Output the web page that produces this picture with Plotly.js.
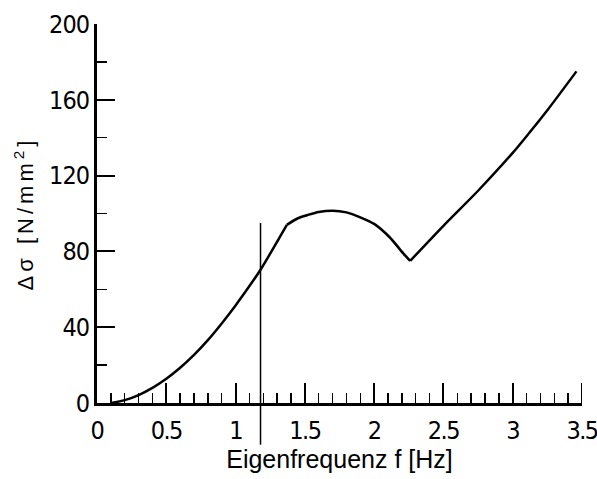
<!DOCTYPE html>
<html>
<head>
<meta charset="utf-8">
<script src="https://cdn.plot.ly/plotly-3.0.1.min.js"></script>
<style>
html,body{margin:0;padding:0;background:#fff;}
#chart{width:597px;height:479px;}
.g-ytitle text{letter-spacing:4px;}
.xtick text{font-stretch:condensed;letter-spacing:-1.5px;}
.ytick text{font-stretch:condensed;letter-spacing:-1px;}
</style>
</head>
<body>
<div id="chart"></div>
<script>
// Eigenfrequenz f [Hz]
var freq = [0.10, 0.20, 0.30, 0.40, 0.50, 0.60, 0.70, 0.80, 0.90, 1.00, 1.10, 1.18, 1.37,
            1.45, 1.52, 1.60, 1.70, 1.80, 1.90, 2.00, 2.11, 2.21, 2.26,
            2.50, 2.75, 3.00, 3.12, 3.25, 3.46];
// Δσ [N/mm²]
var stress = [0, 1.5, 4.2, 8.0, 12.8, 18.6, 25.4, 33.2, 42.0, 51.5, 61.7, 70.3, 94,
              97.5, 99.2, 100.8, 101.5, 100.6, 98, 94.5, 87.6, 79, 75,
              93.5, 112, 132, 142.6, 154.5, 175];
// indices of the sharp corners (knee and minimum)
var corners = [12, 22];
// vertical marker line
var markerF = 1.18;
var markerTop = 95;
var markerBottom = -22;

var xTickVals = [0, 0.5, 1, 1.5, 2, 2.5, 3, 3.5];
var xTickText = ['0', '0.5', '1', '1.5', '2', '2.5', '3', '3.5'];
var yTickVals = [0, 40, 80, 120, 160, 200];
var yTickText = ['0', '40', '80', '120', '160', '200'];

var yMin = 0, yMax = 200;

var bounds = [0].concat(corners).concat([freq.length - 1]);
var traces = [];
for (var i = 0; i < bounds.length - 1; i++) {
  traces.push({
    x: freq.slice(bounds[i], bounds[i + 1] + 1),
    y: stress.slice(bounds[i], bounds[i + 1] + 1),
    type: 'scatter', mode: 'lines',
    line: {color: '#000', width: 2.5, shape: 'spline', smoothing: 0.8},
    hoverinfo: 'none', showlegend: false
  });
}

var tickFont = {family: '"Liberation Sans Narrow", "DejaVu Sans Condensed", "Liberation Sans", sans-serif', size: 25, color: '#000'};
var titleFont = {family: '"Liberation Sans", Arial, sans-serif', size: 25, color: '#000'};

var layout = {
  width: 597, height: 479,
  margin: {l: 97, r: 15, t: 24, b: 76},
  paper_bgcolor: '#fff', plot_bgcolor: '#fff',
  showlegend: false,
  xaxis: {
    range: [0, 3.5], showgrid: false, zeroline: false,
    showline: true, linewidth: 3, linecolor: '#000',
    ticks: 'inside', ticklen: 20, tickwidth: 2, tickcolor: '#000',
    tickmode: 'array', tickvals: xTickVals, ticktext: xTickText,
    tickfont: tickFont, ticklabelstandoff: 3, ticklabeloverflow: 'allow',
    minor: {ticks: 'inside', ticklen: 10, tickwidth: 1.5, tickcolor: '#000', dtick: 0.1, tick0: 0, showgrid: false},
    title: {text: 'Eigenfrequenz f [Hz]', font: titleFont, standoff: 2}
  },
  yaxis: {
    range: [yMin, yMax], showgrid: false, zeroline: false,
    showline: true, linewidth: 3, linecolor: '#000',
    ticks: 'inside', ticklen: 18, tickwidth: 2, tickcolor: '#000',
    tickmode: 'array', tickvals: yTickVals, ticktext: yTickText,
    tickfont: tickFont, ticklabelstandoff: 0, ticklabeloverflow: 'allow',
    minor: {ticks: 'inside', ticklen: 10, tickwidth: 1.5, tickcolor: '#000', dtick: 20, tick0: 0, showgrid: false},
    title: {text: 'Δσ [N/mm<sup>2</sup>]', font: {family: '"Liberation Sans", Arial, sans-serif', size: 22, color: '#000'}, standoff: 10}
  },
  shapes: [{
    type: 'line', xref: 'x', yref: 'paper',
    x0: markerF, x1: markerF,
    y0: (markerBottom - yMin) / (yMax - yMin), y1: (markerTop - yMin) / (yMax - yMin),
    line: {color: '#000', width: 1.5}
  }, {
    type: 'line', xref: 'x', yref: 'y',
    x0: 3.5, x1: 3.5, y0: 0, y1: 10.5,
    line: {color: '#000', width: 2}
  }]
};

Plotly.newPlot('chart', traces, layout, {staticPlot: true, displayModeBar: false});
</script>
</body>
</html>
